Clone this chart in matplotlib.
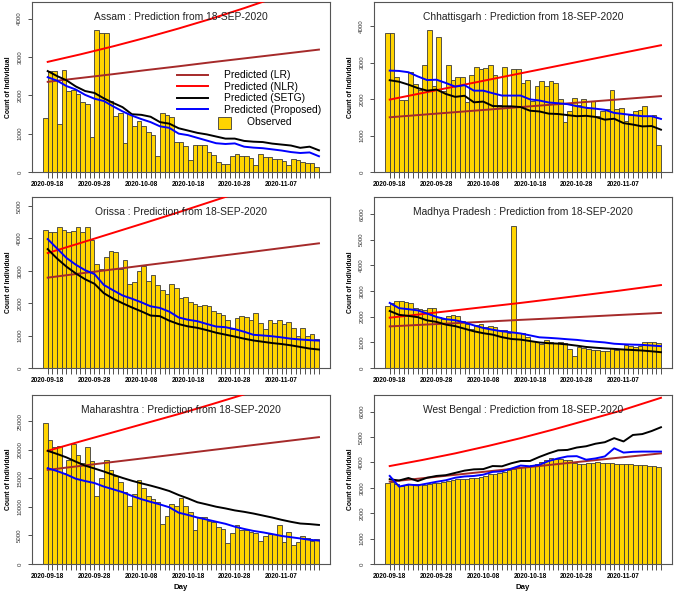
import matplotlib
matplotlib.use('Agg')
import matplotlib.pyplot as plt
from matplotlib.lines import Line2D
from matplotlib.patches import Patch, Rectangle
from matplotlib.legend_handler import HandlerPatch
from matplotlib.ticker import MultipleLocator

plt.rcParams['font.family'] = ['Liberation Sans', 'DejaVu Sans']

# x axis: one bar per day, ticks at the right edge of each bar
N_DAYS = 59
LABEL_DAYS = [1, 11, 21, 31, 41, 51]
DATE_LABELS = ['2020-09-18', '2020-09-28', '2020-10-08', '2020-10-18', '2020-10-28', '2020-11-07']
SMOOTH_DAYS = list(range(1, 60, 2))          # sample days for SETG / Proposed
TREND_DAYS = [1, 8, 15, 22, 29, 36, 43, 50, 59]  # sample days for LR / NLR

STATES = ['Assam', 'Chhattisgarh', 'Orissa', 'Madhya Pradesh', 'Maharashtra', 'West Bengal']
Y_TOP = [4430, 4660, 5280, 6660, 29640, 6660]
Y_STEP = [1000, 1000, 1000, 1000, 5000, 1000]

# ---- Assam
assam_obs = [1410, 2620, 2640, 1250, 2670, 2100, 2130, 2020, 1820, 1760,
             900, 3690, 3630, 3630, 1840, 1450, 1540, 765, 1500, 1190,
             1320, 1190, 1035, 975, 410, 1550, 1490, 1435, 780, 780,
             670, 320, 710, 695, 710, 520, 435, 270, 210, 210,
             410, 460, 425, 410, 365, 190, 480, 400, 400, 340,
             350, 280, 175, 350, 305, 270, 235, 245, 120]
assam_lr = [2350, 2450, 2550, 2655, 2755, 2860, 2960, 3060, 3190]
assam_nlr = [2870, 3066, 3275, 3500, 3740, 3995, 4270, 4560, 4965]
assam_setg = [2630, 2500, 2390, 2230, 2110, 2060, 1920, 1800, 1690, 1505,
              1490, 1440, 1300, 1260, 1140, 1080, 1020, 980, 925, 870,
              870, 810, 790, 780, 740, 715, 690, 630, 660, 565]
assam_prop = [2470, 2380, 2240, 2150, 2010, 1910, 1850, 1710, 1580, 1470,
              1380, 1300, 1190, 1150, 1000, 960, 890, 820, 750, 730,
              745, 660, 635, 620, 590, 560, 520, 495, 510, 410]

# ---- Chhattisgarh
chh_obs = [3800, 3815, 2600, 1970, 1985, 2735, 2425, 2260, 2920, 3880,
           2360, 3705, 2230, 2945, 2535, 2610, 2600, 1920, 2670, 2880,
           2835, 2855, 2945, 2655, 1850, 2870, 1780, 2810, 2810, 2440,
           2510, 1950, 2370, 2490, 2370, 2490, 2440, 2000, 1370, 1665,
           2030, 1850, 2010, 1755, 1940, 1530, 1665, 1740, 2240, 1730,
           1755, 1390, 1575, 1665, 1710, 1820, 1530, 1555, 730]
chh_lr = [1500, 1570, 1640, 1710, 1780, 1850, 1920, 1990, 2080]
chh_nlr = [1985, 2165, 2345, 2525, 2705, 2885, 3065, 3245, 3475]
chh_setg = [2515, 2475, 2395, 2300, 2230, 2260, 2140, 2060, 2090, 1910,
            1930, 1810, 1800, 1800, 1780, 1680, 1660, 1600, 1590, 1560,
            1530, 1540, 1510, 1435, 1460, 1340, 1300, 1250, 1260, 1160]
chh_prop = [2780, 2770, 2735, 2620, 2520, 2530, 2440, 2340, 2380, 2230,
            2230, 2160, 2095, 2095, 2095, 1990, 1960, 1905, 1885, 1860,
            1805, 1760, 1735, 1705, 1620, 1590, 1560, 1530, 1530, 1455]

# ---- Orissa
ori_obs = [4260, 4190, 4210, 4340, 4260, 4190, 4230, 4340, 4210, 4360,
           3950, 3220, 3070, 3440, 3610, 3590, 3050, 3320, 2600, 2660,
           2980, 3160, 2680, 2860, 2550, 2420, 2280, 2600, 2480, 2160,
           2180, 2030, 1970, 1900, 1930, 1900, 1770, 1700, 1650, 1470,
           1200, 1530, 1620, 1560, 1480, 1700, 1380, 1200, 1470, 1380,
           1480, 1360, 1430, 1220, 980, 1220, 990, 1040, 900]
ori_lr = [2790, 2920, 3045, 3175, 3300, 3430, 3555, 3685, 3850]
ori_nlr = [3550, 3860, 4175, 4490, 4810, 5140, 5470, 5810, 6250]
ori_setg = [3670, 3380, 3130, 2920, 2740, 2600, 2310, 2140, 2000, 1870,
            1750, 1620, 1600, 1460, 1355, 1285, 1240, 1170, 1090, 1030,
            970, 905, 850, 810, 770, 740, 700, 650, 600, 570]
ori_prop = [3980, 3690, 3400, 3190, 3020, 2900, 2565, 2400, 2240, 2140,
            2030, 1905, 1855, 1740, 1560, 1490, 1445, 1360, 1280, 1260,
            1200, 1120, 1025, 1005, 980, 945, 905, 880, 860, 845]

# ---- Madhya Pradesh
mp_obs = [2405, 2550, 2615, 2600, 2575, 2550, 2355, 2315, 2250, 2340,
          2340, 1985, 1920, 2025, 2080, 2025, 1815, 1725, 1530, 1660,
          1725, 1595, 1635, 1595, 1490, 1465, 1370, 5540, 1370, 1370,
          1200, 1045, 1005, 940, 1100, 1005, 965, 1005, 965, 745,
          485, 810, 770, 745, 705, 720, 680, 680, 770, 720,
          745, 900, 875, 810, 875, 1030, 1030, 1005, 980]
mp_lr = [1620, 1685, 1745, 1810, 1875, 1935, 2000, 2065, 2145]
mp_nlr = [1960, 2100, 2245, 2390, 2535, 2690, 2850, 3010, 3230]
mp_setg = [2220, 2070, 2030, 1980, 1855, 1795, 1690, 1630, 1530, 1430,
           1355, 1300, 1200, 1130, 1105, 1050, 995, 965, 950, 915,
           870, 820, 790, 765, 745, 720, 700, 680, 650, 615]
mp_prop = [2535, 2330, 2290, 2245, 2120, 1990, 1900, 1860, 1775, 1660,
           1560, 1490, 1430, 1390, 1345, 1270, 1195, 1175, 1150, 1120,
           1095, 1055, 1025, 995, 945, 925, 910, 900, 875, 850]

# ---- Maharashtra
mh_obs = [24700, 21700, 20600, 20700, 16000, 18300, 21100, 19100, 17800, 20500,
          18000, 11900, 15000, 18300, 16500, 15500, 14300, 12600, 10200, 12300,
          14700, 13400, 12000, 11400, 10900, 7100, 8500, 10600, 10200, 11500,
          10200, 9100, 6000, 8200, 8200, 7500, 7300, 6500, 6100, 3700,
          5400, 6800, 6000, 6000, 5600, 5400, 4000, 4900, 5300, 5200,
          6900, 3900, 5600, 3300, 3800, 4900, 4600, 4100, 4300]
mh_lr = [16510, 17200, 17900, 18590, 19280, 19980, 20670, 21360, 22250]
mh_nlr = [19850, 21500, 23100, 24700, 26300, 28000, 29750, 31500, 33800]
mh_setg = [19850, 19300, 18700, 17950, 17250, 16750, 16220, 15650, 15100, 14600,
           14150, 13750, 13300, 12800, 12100, 11500, 10830, 10450, 10050, 9750,
           9400, 9150, 8850, 8500, 8150, 7750, 7400, 7100, 7000, 6850]
mh_prop = [16800, 16300, 15700, 14950, 14550, 14200, 13580, 13100, 12600, 11950,
           11380, 10900, 10450, 9950, 9000, 8600, 8150, 7800, 7420, 7050,
           6550, 6150, 5800, 5550, 5250, 4920, 4700, 4480, 4250, 4100]

# ---- West Bengal
wb_obs = [3190, 3230, 3150, 3080, 3110, 3150, 3160, 3140, 3130, 3160,
          3180, 3200, 3220, 3280, 3300, 3340, 3350, 3360, 3380, 3400,
          3440, 3480, 3550, 3560, 3600, 3640, 3700, 3760, 3810, 3840,
          3860, 3900, 3940, 4020, 4080, 4160, 4130, 4120, 4100, 4080,
          3980, 3960, 3960, 3970, 3990, 4000, 3980, 3970, 3990, 3960,
          3940, 3930, 3930, 3910, 3900, 3890, 3870, 3850, 3810]
wb_lr = [3245, 3380, 3515, 3650, 3785, 3920, 4055, 4190, 4360]
wb_nlr = [3860, 4100, 4360, 4650, 4960, 5300, 5660, 6020, 6550]
wb_setg = [3340, 3290, 3390, 3270, 3400, 3470, 3500, 3590, 3680, 3730,
           3740, 3860, 3850, 3970, 4060, 4060, 4220, 4360, 4480, 4495,
           4590, 4640, 4740, 4800, 4960, 4830, 5085, 5120, 5240, 5390]
wb_prop = [3470, 3050, 3130, 3100, 3170, 3240, 3300, 3400, 3450, 3470,
           3520, 3630, 3650, 3760, 3880, 3850, 3910, 4060, 4160, 4240,
           4250, 4110, 4160, 4240, 4560, 4390, 4420, 4430, 4430, 4430]

OBS = [assam_obs, chh_obs, ori_obs, mp_obs, mh_obs, wb_obs]
LR = [assam_lr, chh_lr, ori_lr, mp_lr, mh_lr, wb_lr]
NLR = [assam_nlr, chh_nlr, ori_nlr, mp_nlr, mh_nlr, wb_nlr]
SETG = [assam_setg, chh_setg, ori_setg, mp_setg, mh_setg, wb_setg]
PROP = [assam_prop, chh_prop, ori_prop, mp_prop, mh_prop, wb_prop]

GOLD = '#FFD400'
C_LR = '#A52A2A'
C_NLR = '#FF0000'
C_SETG = '#000000'
C_PROP = '#0000FF'

# axes boxes in pixels (left, top, right, bottom) on a 676x594 canvas
W, H = 676, 594
BOXES = [(32, 2, 330, 172), (374, 2, 672, 172),
         (32, 197, 330, 368), (374, 197, 672, 368),
         (32, 395, 330, 564), (374, 395, 672, 564)]


def observed_square(legend, orig_handle, xdescent, ydescent, width, height, fontsize):
    return Rectangle((4.0 * fontsize - xdescent, -0.45 * fontsize), 1.25 * fontsize, 1.15 * fontsize)


def draw_panel(ax, idx):
    obs = OBS[idx]
    centers = [d - 0.5 for d in range(1, len(obs) + 1)]
    ax.bar(centers, obs, width=1.0, color=GOLD, edgecolor='#3a3a3a', linewidth=0.6, zorder=2)
    ax.plot(TREND_DAYS, NLR[idx], color=C_NLR, lw=1.4, zorder=3)
    ax.plot(TREND_DAYS, LR[idx], color=C_LR, lw=1.4, zorder=3)
    ax.plot(SMOOTH_DAYS, SETG[idx], color=C_SETG, lw=1.4, zorder=4)
    ax.plot(SMOOTH_DAYS, PROP[idx], color=C_PROP, lw=1.4, zorder=4)

    ax.set_xlim(-2.36, N_DAYS + 2.36)
    ax.set_ylim(0, Y_TOP[idx])

    ax.set_xticks(LABEL_DAYS, DATE_LABELS)
    ax.set_xticks(range(1, N_DAYS + 1), minor=True)
    ax.tick_params(axis='x', which='both', length=4, width=0.6, color='#333333', pad=2.5,
                   labelsize=4.7)
    for lbl in ax.get_xticklabels():
        lbl.set_fontweight('bold')

    ax.yaxis.set_major_locator(MultipleLocator(Y_STEP[idx]))
    ax.tick_params(axis='y', length=3, width=0.6, color='#333333', pad=4,
                   labelsize=4.4, labelcolor='#333333', labelrotation=90)
    for lbl in ax.get_yticklabels():
        lbl.set_va('center')

    ax.set_ylabel('Count of Individual', fontsize=4.9, fontweight='bold', labelpad=4)
    for sp in ax.spines.values():
        sp.set_color('#555555')
        sp.set_linewidth(0.8)

    ax.text(0.5, 0.91, STATES[idx] + ' : Prediction from 18-SEP-2020', transform=ax.transAxes,
            ha='center', va='center', fontsize=7.4, color='#222222', zorder=5)


def main():
    fig = plt.figure(figsize=(6.76, 5.94), dpi=100)
    axes = []
    for (l, t, r, b) in BOXES:
        ax = fig.add_axes([l / W, 1 - b / H, (r - l) / W, (b - t) / H])
        axes.append(ax)

    for i, ax in enumerate(axes):
        draw_panel(ax, i)

    for ax in axes[4:]:
        ax.set_xlabel('Day', fontsize=5.6, fontweight='bold', labelpad=3)

    handles = [Line2D([], [], color=C_LR, lw=1.4),
               Line2D([], [], color=C_NLR, lw=1.4),
               Line2D([], [], color=C_SETG, lw=1.4),
               Line2D([], [], color=C_PROP, lw=1.4),
               Patch(facecolor=GOLD, edgecolor='#3a3a3a', linewidth=0.6)]
    labels = ['Predicted (LR)', 'Predicted (NLR)', 'Predicted (SETG)', 'Predicted (Proposed)',
              '        Observed']
    axes[0].legend(handles, labels, loc='upper left', bbox_to_anchor=(0.487, 0.598),
                   frameon=False, fontsize=7.4, handlelength=3.0, handletextpad=1.6,
                   labelspacing=0.15, borderpad=0, borderaxespad=0,
                   handler_map={Patch: HandlerPatch(patch_func=observed_square)})

    fig.savefig('out.png', dpi=100)


if __name__ == "__main__":
    main()
